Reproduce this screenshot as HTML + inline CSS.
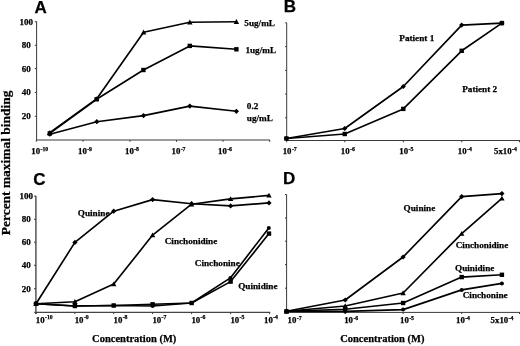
<!DOCTYPE html>
<html><head><meta charset="utf-8"><title>Figure</title>
<style>
html,body{margin:0;padding:0;background:#fff}
svg{display:block;will-change:transform;transform:translateZ(0)}
text{font-family:"Liberation Serif",serif;font-weight:bold;fill:#000;stroke:#000;stroke-width:.25px}
.t{font-size:8.8px}
.s{font-size:5.8px}
.y{font-size:9px;text-anchor:middle}
.l{font-size:9.2px}
.c{font-size:10.5px}
.v{font-size:13.45px}
.p{font-family:"Liberation Sans",sans-serif;font-size:17px}
</style></head><body>
<svg width="520" height="346" viewBox="0 0 520 346">
<rect width="520" height="346" fill="#fff"/>
<line x1="36.6" y1="21.5" x2="36.6" y2="140.0" stroke="#3a3a3a" stroke-width="1"/>
<line x1="36.6" y1="140.0" x2="270.0" y2="140.0" stroke="#3a3a3a" stroke-width="1"/>
<line x1="34.8" y1="21.8" x2="36.6" y2="21.8" stroke="#3a3a3a" stroke-width="1"/>
<text class="y" x="26.2" y="24.8">100</text>
<line x1="34.8" y1="45.3" x2="36.6" y2="45.3" stroke="#3a3a3a" stroke-width="1"/>
<text class="y" x="26.2" y="48.3">80</text>
<line x1="34.8" y1="68.6" x2="36.6" y2="68.6" stroke="#3a3a3a" stroke-width="1"/>
<text class="y" x="26.2" y="71.6">60</text>
<line x1="34.8" y1="92.4" x2="36.6" y2="92.4" stroke="#3a3a3a" stroke-width="1"/>
<text class="y" x="26.2" y="95.4">40</text>
<line x1="34.8" y1="116.3" x2="36.6" y2="116.3" stroke="#3a3a3a" stroke-width="1"/>
<text class="y" x="26.2" y="119.3">20</text>
<line x1="36.3" y1="140.0" x2="36.3" y2="141.8" stroke="#3a3a3a" stroke-width="1"/>
<line x1="83.0" y1="140.0" x2="83.0" y2="141.8" stroke="#3a3a3a" stroke-width="1"/>
<line x1="130.0" y1="140.0" x2="130.0" y2="141.8" stroke="#3a3a3a" stroke-width="1"/>
<line x1="176.5" y1="140.0" x2="176.5" y2="141.8" stroke="#3a3a3a" stroke-width="1"/>
<line x1="223.0" y1="140.0" x2="223.0" y2="141.8" stroke="#3a3a3a" stroke-width="1"/>
<line x1="269.7" y1="140.0" x2="269.7" y2="141.8" stroke="#3a3a3a" stroke-width="1"/>
<text class="t" x="31.3" y="153.8">10<tspan class="s" dx="0.4" dy="-3.3">-10</tspan></text>
<text class="t" x="78.0" y="153.8">10<tspan class="s" dx="0.4" dy="-3.3">-9</tspan></text>
<text class="t" x="125.0" y="153.8">10<tspan class="s" dx="0.4" dy="-3.3">-8</tspan></text>
<text class="t" x="171.5" y="153.8">10<tspan class="s" dx="0.4" dy="-3.3">-7</tspan></text>
<text class="t" x="218.0" y="153.8">10<tspan class="s" dx="0.4" dy="-3.3">-6</tspan></text>
<polyline fill="none" stroke="#000" stroke-width="1.65" stroke-linejoin="round" points="49.8,132.7 96.6,98.9 143.6,32.3 189.8,22.3 236.4,21.8"/><path d="M49.8 130.0L52.5 134.9L47.1 134.9Z"/><path d="M96.6 96.2L99.3 101.1L93.9 101.1Z"/><path d="M143.6 29.6L146.3 34.5L140.9 34.5Z"/><path d="M189.8 19.6L192.5 24.5L187.1 24.5Z"/><path d="M236.4 19.1L239.1 24.0L233.7 24.0Z"/>
<polyline fill="none" stroke="#000" stroke-width="1.65" stroke-linejoin="round" points="49.8,133.4 96.6,99.3 143.4,70.0 189.8,45.9 236.4,49.3"/><rect x="47.6" y="131.2" width="4.4" height="4.4"/><rect x="94.4" y="97.1" width="4.4" height="4.4"/><rect x="141.2" y="67.8" width="4.4" height="4.4"/><rect x="187.6" y="43.7" width="4.4" height="4.4"/><rect x="234.2" y="47.1" width="4.4" height="4.4"/>
<polyline fill="none" stroke="#000" stroke-width="1.65" stroke-linejoin="round" points="49.8,134.2 96.8,121.7 143.5,115.6 189.8,106.1 236.4,111.3"/><path d="M49.8 131.6L52.4 134.2L49.8 136.8L47.2 134.2Z"/><path d="M96.8 119.1L99.4 121.7L96.8 124.3L94.2 121.7Z"/><path d="M143.5 113.0L146.1 115.6L143.5 118.2L140.9 115.6Z"/><path d="M189.8 103.5L192.4 106.1L189.8 108.7L187.2 106.1Z"/><path d="M236.4 108.7L239.0 111.3L236.4 113.9L233.8 111.3Z"/>
<text class="l" x="244.3" y="25.8">5ug/mL</text>
<text class="l" x="245.4" y="53.1">1ug/mL</text>
<text class="l" x="246.8" y="108.9">0.2</text>
<text class="l" x="246.8" y="120.5">ug/mL</text>
<text class="p" x="34.6" y="12.7">A</text>
<line x1="286.7" y1="22.8" x2="286.7" y2="140.5" stroke="#3a3a3a" stroke-width="1"/>
<line x1="286.7" y1="140.5" x2="520.0" y2="140.5" stroke="#3a3a3a" stroke-width="1"/>
<line x1="285.1" y1="22.8" x2="286.7" y2="22.8" stroke="#3a3a3a" stroke-width="1"/>
<line x1="285.1" y1="46.6" x2="286.7" y2="46.6" stroke="#3a3a3a" stroke-width="1"/>
<line x1="285.1" y1="70.4" x2="286.7" y2="70.4" stroke="#3a3a3a" stroke-width="1"/>
<line x1="285.1" y1="94.1" x2="286.7" y2="94.1" stroke="#3a3a3a" stroke-width="1"/>
<line x1="285.1" y1="117.8" x2="286.7" y2="117.8" stroke="#3a3a3a" stroke-width="1"/>
<line x1="286.7" y1="140.5" x2="286.7" y2="142.3" stroke="#3a3a3a" stroke-width="1"/>
<line x1="344.8" y1="140.5" x2="344.8" y2="142.3" stroke="#3a3a3a" stroke-width="1"/>
<line x1="403.3" y1="140.5" x2="403.3" y2="142.3" stroke="#3a3a3a" stroke-width="1"/>
<line x1="461.8" y1="140.5" x2="461.8" y2="142.3" stroke="#3a3a3a" stroke-width="1"/>
<line x1="519.5" y1="140.5" x2="519.5" y2="142.3" stroke="#3a3a3a" stroke-width="1"/>
<text class="t" x="282.7" y="153.8">10<tspan class="s" dx="0.4" dy="-3.3">-7</tspan></text>
<text class="t" x="340.8" y="153.8">10<tspan class="s" dx="0.4" dy="-3.3">-6</tspan></text>
<text class="t" x="399.3" y="153.8">10<tspan class="s" dx="0.4" dy="-3.3">-5</tspan></text>
<text class="t" x="457.8" y="153.8">10<tspan class="s" dx="0.4" dy="-3.3">-4</tspan></text>
<text class="t" x="494.0" y="153.8">5x10<tspan class="s" dx="0.4" dy="-3.3">-4</tspan></text>
<polyline fill="none" stroke="#000" stroke-width="1.65" stroke-linejoin="round" points="286.4,138.5 344.7,128.5 403.3,86.5 461.7,25.1 501.9,23.1"/><path d="M286.4 135.9L289.0 138.5L286.4 141.1L283.8 138.5Z"/><path d="M344.7 125.9L347.3 128.5L344.7 131.1L342.1 128.5Z"/><path d="M403.3 83.9L405.9 86.5L403.3 89.1L400.7 86.5Z"/><path d="M461.7 22.5L464.3 25.1L461.7 27.7L459.1 25.1Z"/><path d="M501.9 20.5L504.5 23.1L501.9 25.7L499.3 23.1Z"/>
<polyline fill="none" stroke="#000" stroke-width="1.65" stroke-linejoin="round" points="286.4,138.5 344.7,134.0 403.3,108.9 461.7,50.8 501.9,23.1"/><rect x="284.2" y="136.3" width="4.4" height="4.4"/><rect x="342.5" y="131.8" width="4.4" height="4.4"/><rect x="401.1" y="106.7" width="4.4" height="4.4"/><rect x="459.5" y="48.6" width="4.4" height="4.4"/><rect x="499.7" y="20.9" width="4.4" height="4.4"/>
<text class="l" x="399.3" y="41.3">Patient 1</text>
<text class="l" x="462.2" y="91.8">Patient 2</text>
<text class="p" x="283.8" y="12.2">B</text>
<line x1="35.9" y1="196.0" x2="35.9" y2="314.1" stroke="#555" stroke-width="1.5"/>
<line x1="34.2" y1="312.4" x2="270.2" y2="312.4" stroke="#444" stroke-width="1.1"/>
<line x1="34.0" y1="196.1" x2="36.0" y2="196.1" stroke="#3a3a3a" stroke-width="1"/>
<text class="y" x="26.2" y="199.1">100</text>
<line x1="34.0" y1="219.3" x2="36.0" y2="219.3" stroke="#3a3a3a" stroke-width="1"/>
<text class="y" x="26.2" y="222.3">80</text>
<line x1="34.0" y1="242.2" x2="36.0" y2="242.2" stroke="#3a3a3a" stroke-width="1"/>
<text class="y" x="26.2" y="245.2">60</text>
<line x1="34.0" y1="265.3" x2="36.0" y2="265.3" stroke="#3a3a3a" stroke-width="1"/>
<text class="y" x="26.2" y="268.3">40</text>
<line x1="34.0" y1="288.7" x2="36.0" y2="288.7" stroke="#3a3a3a" stroke-width="1"/>
<text class="y" x="26.2" y="291.7">20</text>
<line x1="36.0" y1="312.3" x2="36.0" y2="314.1" stroke="#3a3a3a" stroke-width="1"/>
<line x1="74.9" y1="312.3" x2="74.9" y2="314.1" stroke="#3a3a3a" stroke-width="1"/>
<line x1="113.7" y1="312.3" x2="113.7" y2="314.1" stroke="#3a3a3a" stroke-width="1"/>
<line x1="152.6" y1="312.3" x2="152.6" y2="314.1" stroke="#3a3a3a" stroke-width="1"/>
<line x1="191.6" y1="312.3" x2="191.6" y2="314.1" stroke="#3a3a3a" stroke-width="1"/>
<line x1="230.6" y1="312.3" x2="230.6" y2="314.1" stroke="#3a3a3a" stroke-width="1"/>
<line x1="269.6" y1="312.3" x2="269.6" y2="314.1" stroke="#3a3a3a" stroke-width="1"/>
<text class="t" x="35.8" y="322.5">10<tspan class="s" dx="0.4" dy="-3.3">-10</tspan></text>
<text class="t" x="74.7" y="322.5">10<tspan class="s" dx="0.4" dy="-3.3">-9</tspan></text>
<text class="t" x="113.5" y="322.5">10<tspan class="s" dx="0.4" dy="-3.3">-8</tspan></text>
<text class="t" x="152.4" y="322.5">10<tspan class="s" dx="0.4" dy="-3.3">-7</tspan></text>
<text class="t" x="191.4" y="322.5">10<tspan class="s" dx="0.4" dy="-3.3">-6</tspan></text>
<text class="t" x="230.4" y="322.5">10<tspan class="s" dx="0.4" dy="-3.3">-5</tspan></text>
<text class="t" x="264.0" y="322.5">10<tspan class="s" dx="0.4" dy="-3.3">-4</tspan></text>
<polyline fill="none" stroke="#000" stroke-width="1.65" stroke-linejoin="round" points="36.0,303.8 74.9,242.4 113.7,211.2 152.6,199.6 191.6,203.7 230.6,205.9 269.0,202.9"/><path d="M36.0 301.2L38.6 303.8L36.0 306.4L33.4 303.8Z"/><path d="M74.9 239.8L77.5 242.4L74.9 245.0L72.3 242.4Z"/><path d="M113.7 208.6L116.3 211.2L113.7 213.8L111.1 211.2Z"/><path d="M152.6 197.0L155.2 199.6L152.6 202.2L150.0 199.6Z"/><path d="M191.6 201.1L194.2 203.7L191.6 206.3L189.0 203.7Z"/><path d="M230.6 203.3L233.2 205.9L230.6 208.5L228.0 205.9Z"/><path d="M269.0 200.3L271.6 202.9L269.0 205.5L266.4 202.9Z"/>
<polyline fill="none" stroke="#000" stroke-width="1.65" stroke-linejoin="round" points="36.0,303.8 74.9,301.7 113.7,284.1 152.6,235.1 191.6,204.2 230.6,198.9 269.0,195.4"/><path d="M36.0 301.1L38.7 306.0L33.3 306.0Z"/><path d="M74.9 299.0L77.6 303.9L72.2 303.9Z"/><path d="M113.7 281.4L116.4 286.3L111.0 286.3Z"/><path d="M152.6 232.4L155.3 237.3L149.9 237.3Z"/><path d="M191.6 201.5L194.3 206.4L188.9 206.4Z"/><path d="M230.6 196.2L233.3 201.1L227.9 201.1Z"/><path d="M269.0 192.7L271.7 197.6L266.3 197.6Z"/>
<polyline fill="none" stroke="#000" stroke-width="1.65" stroke-linejoin="round" points="36.0,303.8 74.9,306.0 113.7,305.5 152.6,306.0 191.6,303.0 230.4,277.9 268.8,228.0"/><circle cx="36.0" cy="303.8" r="2.0"/><circle cx="74.9" cy="306.0" r="2.0"/><circle cx="113.7" cy="305.5" r="2.0"/><circle cx="152.6" cy="306.0" r="2.0"/><circle cx="191.6" cy="303.0" r="2.0"/><circle cx="230.4" cy="277.9" r="2.0"/><circle cx="268.8" cy="228.0" r="2.0"/>
<polyline fill="none" stroke="#000" stroke-width="1.65" stroke-linejoin="round" points="36.0,303.8 74.9,306.0 113.7,305.5 152.6,304.3 191.6,303.0 230.6,281.6 269.0,233.6"/><rect x="33.8" y="301.6" width="4.4" height="4.4"/><rect x="72.7" y="303.8" width="4.4" height="4.4"/><rect x="111.5" y="303.3" width="4.4" height="4.4"/><rect x="150.4" y="302.1" width="4.4" height="4.4"/><rect x="189.4" y="300.8" width="4.4" height="4.4"/><rect x="228.4" y="279.4" width="4.4" height="4.4"/><rect x="266.8" y="231.4" width="4.4" height="4.4"/>
<text class="l" x="77.8" y="215.8">Quinine</text>
<text class="l" x="164.7" y="244.2">Cinchonidine</text>
<text class="l" x="194.8" y="265.8">Cinchonine</text>
<text class="l" x="238.2" y="288.7">Quinidine</text>
<text class="p" x="33.3" y="184.8">C</text>
<text class="c" x="92.1" y="341.8">Concentration (M)</text>
<line x1="286.6" y1="194.5" x2="286.6" y2="312.4" stroke="#3a3a3a" stroke-width="1"/>
<line x1="286.6" y1="312.4" x2="520.0" y2="312.4" stroke="#3a3a3a" stroke-width="1"/>
<line x1="285.0" y1="194.5" x2="286.6" y2="194.5" stroke="#3a3a3a" stroke-width="1"/>
<line x1="285.0" y1="217.9" x2="286.6" y2="217.9" stroke="#3a3a3a" stroke-width="1"/>
<line x1="285.0" y1="241.2" x2="286.6" y2="241.2" stroke="#3a3a3a" stroke-width="1"/>
<line x1="285.0" y1="264.6" x2="286.6" y2="264.6" stroke="#3a3a3a" stroke-width="1"/>
<line x1="285.0" y1="288.2" x2="286.6" y2="288.2" stroke="#3a3a3a" stroke-width="1"/>
<line x1="286.6" y1="312.4" x2="286.6" y2="314.0" stroke="#3a3a3a" stroke-width="1"/>
<line x1="345.2" y1="312.4" x2="345.2" y2="314.0" stroke="#3a3a3a" stroke-width="1"/>
<line x1="403.1" y1="312.4" x2="403.1" y2="314.0" stroke="#3a3a3a" stroke-width="1"/>
<line x1="461.7" y1="312.4" x2="461.7" y2="314.0" stroke="#3a3a3a" stroke-width="1"/>
<line x1="519.5" y1="312.4" x2="519.5" y2="314.0" stroke="#3a3a3a" stroke-width="1"/>
<text class="t" x="287.6" y="323.3">10<tspan class="s" dx="0.4" dy="-3.3">-7</tspan></text>
<text class="t" x="344.2" y="323.3">10<tspan class="s" dx="0.4" dy="-3.3">-6</tspan></text>
<text class="t" x="400.0" y="323.3">10<tspan class="s" dx="0.4" dy="-3.3">-5</tspan></text>
<text class="t" x="456.0" y="323.3">10<tspan class="s" dx="0.4" dy="-3.3">-4</tspan></text>
<text class="t" x="490.6" y="323.3">5x10<tspan class="s" dx="0.4" dy="-3.3">-4</tspan></text>
<polyline fill="none" stroke="#000" stroke-width="1.65" stroke-linejoin="round" points="286.5,311.3 345.2,300.0 403.1,257.0 461.7,196.6 501.9,193.6"/><path d="M286.5 308.7L289.1 311.3L286.5 313.9L283.9 311.3Z"/><path d="M345.2 297.4L347.8 300.0L345.2 302.6L342.6 300.0Z"/><path d="M403.1 254.4L405.7 257.0L403.1 259.6L400.5 257.0Z"/><path d="M461.7 194.0L464.3 196.6L461.7 199.2L459.1 196.6Z"/><path d="M501.9 191.0L504.5 193.6L501.9 196.2L499.3 193.6Z"/>
<polyline fill="none" stroke="#000" stroke-width="1.65" stroke-linejoin="round" points="286.5,311.3 345.2,306.0 403.1,293.0 461.7,233.6 501.9,198.4"/><path d="M286.5 308.6L289.2 313.5L283.8 313.5Z"/><path d="M345.2 303.3L347.9 308.2L342.5 308.2Z"/><path d="M403.1 290.3L405.8 295.2L400.4 295.2Z"/><path d="M461.7 230.9L464.4 235.8L459.0 235.8Z"/><path d="M501.9 195.7L504.6 200.6L499.2 200.6Z"/>
<polyline fill="none" stroke="#000" stroke-width="1.65" stroke-linejoin="round" points="286.5,311.3 345.2,309.3 403.1,303.0 461.7,277.1 501.9,274.8"/><rect x="284.3" y="309.1" width="4.4" height="4.4"/><rect x="343.0" y="307.1" width="4.4" height="4.4"/><rect x="400.9" y="300.8" width="4.4" height="4.4"/><rect x="459.5" y="274.9" width="4.4" height="4.4"/><rect x="499.7" y="272.6" width="4.4" height="4.4"/>
<polyline fill="none" stroke="#000" stroke-width="1.65" stroke-linejoin="round" points="286.5,311.3 345.2,311.4 403.1,309.6 461.7,289.9 501.9,283.4"/><circle cx="286.5" cy="311.3" r="2.0"/><circle cx="345.2" cy="311.4" r="2.0"/><circle cx="403.1" cy="309.6" r="2.0"/><circle cx="461.7" cy="289.9" r="2.0"/><circle cx="501.9" cy="283.4" r="2.0"/>
<text class="l" x="403.6" y="211.3">Quinine</text>
<text class="l" x="455.7" y="248.2">Cinchonidine</text>
<text class="l" x="455.0" y="271.1">Quinidine</text>
<text class="l" x="462.7" y="297.5">Cinchonine</text>
<text class="p" x="283.1" y="184.3">D</text>
<text class="c" x="340.2" y="341.8">Concentration (M)</text>
<text class="v" transform="translate(9.5,235.2) rotate(-90)">Percent maximal binding</text>
</svg>
</body></html>
